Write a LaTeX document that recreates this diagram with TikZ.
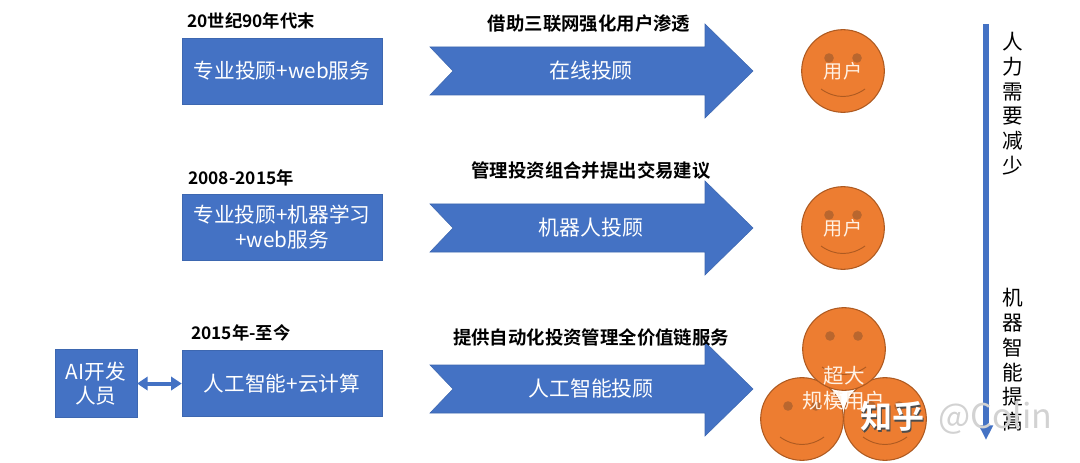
\documentclass[tikz,border=0pt]{standalone}
\usepackage{fontspec}
\setmainfont{Noto Sans CJK SC}
\newfontfamily\titlefont{Noto Sans CJK SC Bold}
\usetikzlibrary{positioning, arrows.meta, calc}
\definecolor{boxblue}{HTML}{4472C4}
\definecolor{faceorange}{HTML}{ED7D31}
\definecolor{faceline}{HTML}{AE5A21}
\definecolor{eyebrown}{HTML}{B9662E}
\tikzset{
    box/.style={draw=boxblue!90!black, fill=boxblue, text=white, minimum width=150pt, minimum height=49.5pt, inner sep=0pt, align=center, font=\fontsize{15.5}{18.5}\selectfont},
    bigarrow/.style={draw=boxblue!90!black, fill=boxblue},
    arrowlabel/.style={text=white, inner sep=0pt, font=\fontsize{15.7}{18}\selectfont},
    period/.style={anchor=west, inner sep=0pt, font=\titlefont\fontsize{13}{15}\selectfont},
    action/.style={inner sep=0pt, font=\titlefont\fontsize{13.8}{16}\selectfont},
    facelabel/.style={text=white!90!orange, inner sep=0pt, align=center, font=\fontsize{14.3}{18.7}\selectfont},
    sidelabel/.style={anchor=north, inner sep=0pt, align=center, font=\fontsize{15.5}{18.6}\selectfont},
    pics/smiley/.style={code={
        \node[circle, draw=faceline, fill=faceorange, line width=0.8pt, minimum size=62pt, inner sep=0pt] (-body) at (0,0) {};
        \fill[eyebrown] (-14,-13) circle (3.6pt) (14,-13) circle (3.6pt);
        \draw[faceline, line width=0.7pt] (-22,18) .. controls (-8,28) and (8,28) .. (22,18);
    }},
    x=0.75pt, y=-0.75pt, node distance=117.2pt
}
\begin{document}
\begin{tikzpicture}
    \useasboundingbox (0,0) rectangle (1080,463);

    \node[box] (web) at (282,71) {专业投顾+web服务};
    \node[box, below of=web] (ml) {专业投顾+机器学习\\+web服务};
    \node[box, below of=ml] (cloud) {人工智能+云计算};
    \node[box, minimum width=61.5pt, minimum height=51pt, left=33.5pt of cloud] (dev) {AI开发\\人员};
    \draw[boxblue, line width=3pt, {Triangle[length=8pt, width=10pt]}-{Triangle[length=8pt, width=10pt]}] (dev) -- (cloud);

    \node[period] (t1) at (187,21) {20世纪90年代末};
    \node[period] (t2) at (188,178) {2008-2015年};
    \node[period] (t3) at (191,333) {2015年-至今};

    % the three arrows
    \foreach \y/\name/\txt in {71/online/在线投顾, 228/robot/机器人投顾, 389/aiadvisor/人工智能投顾} {
        \draw[bigarrow] (430,\y-24) -- (705,\y-24) -- (705,\y-47) -- (753,\y) -- (705,\y+47)
            -- (705,\y+24) -- (430,\y+24) -- (453,\y) -- cycle;
        \node[arrowlabel] (\name) at (591,\y) {\txt};
    }

    \node[action] (a1) at (589,24) {借助三联网强化用户渗透};
    \node[action] (a2) at (591,171) {管理投资组合并提出交易建议};
    \node[action] (a3) at (591,337) {提供自动化投资管理全价值链服务};

    \pic (user1) at (843,71) {smiley};
    \pic (user2) at (843,228) {smiley};
    \pic (left) at (802,419) {smiley};
    \pic (right) at (885,419) {smiley};
    \pic (top) at (844,349) {smiley};

    \node[facelabel] (l1) at (843,71) {用户};
    \node[facelabel] (l2) at (843,228) {用户};
    \node[facelabel, font=\fontsize{15.4}{18.7}\selectfont] (l3) at (844,388) {超大\\规模用户};

    \coordinate (flowtop) at (986,24);
    \coordinate (flowend) at (986,440);
    \draw[boxblue, line width=4.5pt, -{Triangle[length=11pt, width=10pt]}] (flowtop) -- (flowend);

    \node[sidelabel] (less) at (1013,32) {人\\力\\需\\要\\减\\少};
    \node[sidelabel] (more) at (1013,288) {机\\器\\智\\能\\提\\高};

    % watermark
    \node[text=black!70, font=\titlefont\fontsize{24}{28}\selectfont] (zhshadow) at (893.5,418) {知乎};
    \node[text=white, font=\titlefont\fontsize{24}{28}\selectfont] (zh) at (892,416.5) {知乎};
    \node[text=white!65!gray, anchor=west, inner sep=0pt, font=\fontsize{25.5}{28}\selectfont] (colin) at (938,418) {@Colin};
\end{tikzpicture}
\end{document}
